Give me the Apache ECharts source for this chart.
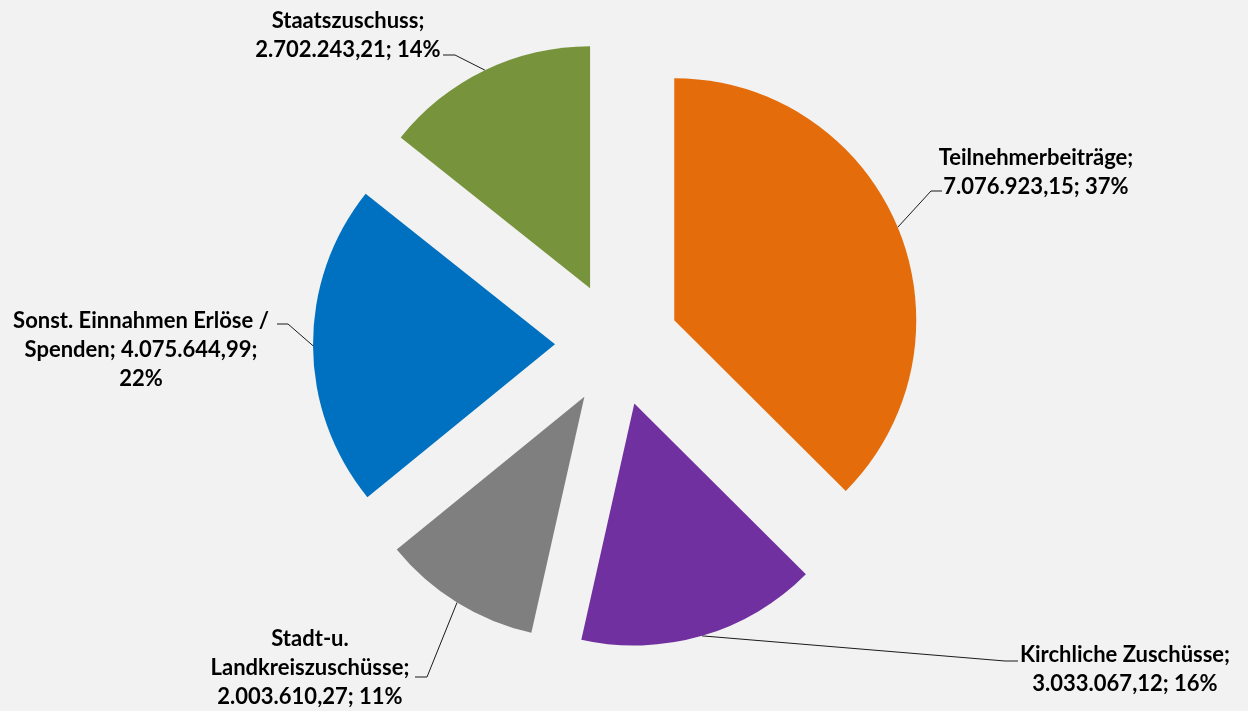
<!DOCTYPE html>
<html>
<head>
<meta charset="utf-8">
<script src="https://cdn.jsdelivr.net/npm/echarts@6/dist/echarts.min.js"></script>
<style>
html,body{margin:0;padding:0;background:#F2F2F2;}
#chart{width:1248px;height:711px;}
</style>
</head>
<body>
<div id="chart"></div>
<script>
const categories = ['Teilnehmerbeiträge', 'Kirchliche Zuschüsse', 'Stadt-u. Landkreiszuschüsse', 'Sonst. Einnahmen Erlöse / Spenden', 'Staatszuschuss'];
const values = [7076923.15, 3033067.12, 2003610.27, 4075644.99, 2702243.21];
const colors = ['#E46C0A', '#7030A0', '#7F7F7F', '#0070C0', '#77933C'];
// text templates: {n}=name, {v}=value, {p}=percent
const labelTemplates = [
  '{n};\n{v}; {p}%',
  '{n};\n{v}; {p}%',
  'Stadt-u.\nLandkreiszuschüsse;\n{v}; {p}%',
  'Sonst. Einnahmen Erlöse /\nSpenden; {v};\n{p}%',
  '{n};\n{v}; {p}%'
];
// label placement (style): centre of label, elbow and end of leader line
const labelPos = [[1036, 172], [1125, 669], [310, 668], [141, 350], [348, 35]];
const lineElbow = [[931, 191], [1005, 661], [427, 677], [288, 324], [455, 55]];
const lineEnd = [[942, 191], [1018, 661], [415, 677], [277, 324], [443, 55]];

const CX = 617, CY = 344, R = 242, EXPLODE = 62;

function fmtDE(x) {
  const parts = x.toFixed(2).split('.');
  const intPart = parts[0].replace(/\B(?=(\d{3})+(?!\d))/g, '.');
  return intPart + ',' + parts[1];
}

const total = values.reduce((a, b) => a + b, 0);
let cum = 0;
const centers = values.map(v => {
  const mid = (cum + v / 2) / total * 2 * Math.PI;
  cum += v;
  return [CX + EXPLODE * Math.sin(mid), CY - EXPLODE * Math.cos(mid)];
});

const series = categories.map((_, si) => ({
  type: 'pie',
  center: centers[si],
  radius: [0, R],
  startAngle: 90,
  clockwise: true,
  silent: true,
  avoidLabelOverlap: false,
  percentPrecision: 0,
  emphasis: { disabled: true },
  data: categories.map((c, i) => ({
    name: c,
    value: values[i],
    itemStyle: { color: i === si ? colors[i] : 'rgba(0,0,0,0)', borderWidth: 0 },
    label: { show: i === si },
    labelLine: { show: i === si }
  })),
  label: {
    position: 'outside',
    color: '#000',
    fontFamily: 'Lato',
    fontWeight: 'bold',
    fontSize: 22,
    lineHeight: 29,
    align: 'center',
    formatter: p => labelTemplates[p.dataIndex]
      .replace('{n}', p.name).replace('{v}', fmtDE(p.value)).replace('{p}', Math.round(p.percent))
  },
  labelLine: {
    length: 20,
    length2: 12,
    lineStyle: { color: '#1a1a1a', width: 1 }
  },
  labelLayout: p => {
    const i = p.dataIndex;
    const out = {
      x: labelPos[i][0],
      y: labelPos[i][1],
      align: 'center',
      verticalAlign: 'middle'
    };
    if (p.labelLinePoints && p.labelLinePoints.length) {
      out.labelLinePoints = [p.labelLinePoints[0], lineElbow[i], lineEnd[i]];
    }
    return out;
  }
}));

const chart = echarts.init(document.getElementById('chart'));
chart.setOption({
  backgroundColor: '#F2F2F2',
  animation: false,
  series: series
});
</script>
</body>
</html>
